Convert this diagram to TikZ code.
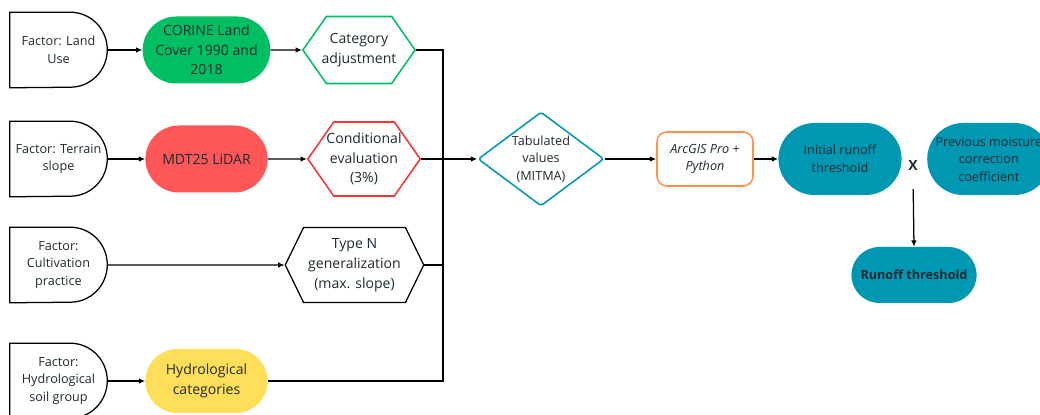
\documentclass[tikz,border=0pt]{standalone}
\usepackage{fontspec}
\setmainfont{Open Sans}
\usetikzlibrary{arrows.meta, shapes.geometric, shapes.misc, shapes.symbols, calc}
\definecolor{cgreen}{HTML}{00BF63}
\definecolor{cred}{HTML}{FF5757}
\definecolor{credline}{HTML}{FF3131}
\definecolor{cyellow}{HTML}{FFDE59}
\definecolor{cteal}{HTML}{0097B2}
\definecolor{corange}{HTML}{FF914D}
\definecolor{ctext}{HTML}{1E2A30}
\begin{document}
\begin{tikzpicture}
	\tikzstyle{factor_style}=[rectangle, minimum width=2.425cm, minimum height=1.875cm, inner sep=0pt, align=center, text=ctext, font=\fontsize{9}{12.5}\selectfont]
	\tikzstyle{pill_style}=[rounded rectangle, minimum width=3.125cm, minimum height=1.675cm, inner sep=1pt, align=center, text=ctext, font=\fontsize{10}{14}\selectfont]
	\tikzstyle{hexagon_style}=[signal, signal to=east and west, signal pointer angle=110, draw, line width=1.1pt, align=center, text=ctext, font=\fontsize{10}{14}\selectfont]
	\tikzstyle{teal_style}=[rounded rectangle, fill=cteal, minimum width=3.15cm, minimum height=1.8cm, inner sep=1pt, align=center, text=ctext, font=\fontsize{9}{12.5}\selectfont]
	\tikzstyle{line_style}=[line width=0.9pt]
	\tikzstyle{arrow_style}=[line width=0.9pt, -{Latex[length=4.5pt, width=4pt]}]
	\useasboundingbox (0,0) rectangle (26,-10.375);
	% factors
	\foreach \y/\t [count=\i] in {-1.25/{Factor: Land\\Use}, -3.975/{Factor: Terrain\\slope}, -6.625/{Factor:\\Cultivation\\practice}, -9.525/{Factor:\\Hydrological\\soil group}}
		\node at (1.4625, \y) [factor_style] (factor_\i) {\t};
	\foreach \i in {1,...,4}
		\draw[line_style] (factor_\i.north west) -- ([xshift=-0.925cm]factor_\i.north east) arc (90:-90:0.925cm and 0.9375cm) -- (factor_\i.south west) -- cycle;
	% data sources
	\node at (5.1625, -1.25) [pill_style, fill=cgreen] (corine) {CORINE Land\\Cover 1990 and\\2018};
	\node at (5.1625, -3.975) [pill_style, fill=cred] (mdt) {MDT25 LiDAR};
	\node at (5.1625, -9.525) [pill_style, fill=cyellow, minimum height=1.6cm] (hydro) {Hydrological\\categories};
	% processing
	\node at (8.975, -1.25) [hexagon_style, draw=cgreen, inner xsep=-3.4pt, minimum height=1.675cm] (category) {Category\\adjustment};
	\node at (9.1, -3.975) [hexagon_style, draw=credline, inner xsep=-5.2pt, minimum height=1.85cm] (conditional) {Conditional\\evaluation\\(3\%)};
	\node at (8.8625, -6.625) [hexagon_style, draw=black, line width=0.9pt, signal pointer angle=128, minimum width=3.3cm, minimum height=1.875cm] (generalization) {Type N\\generalization\\(max. slope)};
	% connect: factor -> source -> processing
	\path[arrow_style] (factor_1) edge (corine) (factor_2) edge (mdt) (factor_4) edge (hydro) (factor_3) edge (generalization);
	\path[arrow_style] (corine) edge (category) (mdt) edge (conditional);
	% collector
	\coordinate (bus_top) at (11.075, -1.25);
	\coordinate (bus_bottom) at (11.075, -9.525);
	\draw[line_style] (category.east) -- (bus_top) -- (bus_bottom) -- (hydro.east);
	\draw[line_style] (generalization.east) -- (generalization.east -| bus_top);
	% runoff chain
	\node at (13.525, -3.975) [diamond, draw=cteal, line width=1.1pt, rounded corners=2pt, aspect=1.34, inner sep=0pt, minimum width=3.15cm, minimum height=2.35cm, align=center, text=ctext, font=\fontsize{9}{12.5}\selectfont] (tabulated) {Tabulated\\values\\(MITMA)};
	\node at (17.625, -3.975) [rectangle, rounded corners=7pt, draw=corange, line width=1.1pt, minimum width=2.4cm, minimum height=1.35cm, align=center, text=ctext, font=\fontsize{9}{12}\selectfont\itshape] (arcgis) {ArcGIS Pro +\\Python};
	\node at (21, -3.975) [teal_style] (initial) {Initial runoff\\threshold};
	\node at (24.72, -3.975) [teal_style] (moisture) {Previous moisture\\correction\\coefficient};
	\node at (22.825, -4.125) [text=ctext, font=\fontsize{10}{12}\selectfont\bfseries] (times) {X};
	\node at (22.85, -6.875) [teal_style, minimum width=3.2cm, minimum height=1.4cm, font=\fontsize{9}{12.5}\selectfont\bfseries] (runoff) {Runoff threshold};
	\draw[arrow_style] (conditional.east) -- (tabulated.west);
	\path[arrow_style] (tabulated) edge (arcgis) (arcgis) edge (initial);
	\draw[arrow_style, shorten <=10pt] (times.south) -- (runoff.north);
\end{tikzpicture}
\end{document}
